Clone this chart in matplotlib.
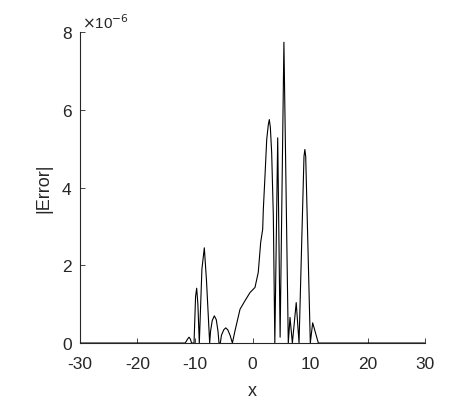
import matplotlib
matplotlib.use("Agg")
import matplotlib.pyplot as plt

# |error| values, y in units of 1e-6
x_vals = [-30, -11.7, -11.3, -11.04, -10.8, -10.6, -10.17, -9.9, -9.71, -9.5,
          -9.25, -8.8, -8.38, -8.0, -7.45,
          -7.3, -7.0, -6.64, -6.3, -6.0, -5.83,
          -5.6, -5.4, -5.0, -4.66, -4.3, -3.9, -3.5,
          -3.04, -2.17, -1.3, -0.43, 0.43, 1.0, 1.42, 1.77, 1.88, 2.17, 2.47,
          2.75, 2.92, 3.1, 3.33, 3.62, 3.88, 4.38, 4.8, 5.46, 6.22,
          6.52, 6.93, 7.6, 8.09, 8.95, 9.1, 9.25, 10.05, 10.46, 11.45, 30]
err_e6 = [0, 0, 0.1, 0.15, 0.1, 0, 0, 1.2, 1.41, 1.0,
          0, 1.9, 2.45, 1.6, 0,
          0.3, 0.58, 0.7, 0.6, 0.3, 0,
          0, 0.2, 0.34, 0.39, 0.34, 0.2, 0,
          0.32, 0.87, 1.09, 1.3, 1.43, 1.82, 2.59, 2.93, 3.44, 4.3, 5.24,
          5.62, 5.75, 5.55, 4.9, 3.27, 0, 5.28, 0.15, 7.74, 0,
          0.66, 0, 1.04, 0, 4.8, 4.98, 4.8, 0, 0.52, 0, 0]

x_ticks = [-30, -20, -10, 0, 10, 20, 30]
y_ticks = [0, 2, 4, 6, 8]

plt.rcParams['font.family'] = ['Liberation Sans', 'DejaVu Sans']
txt = '#262626'

fig = plt.figure(figsize=(4.61, 4.14), dpi=100)
ax = fig.add_axes([0.1735, 0.169, 0.7485, 0.751])
ax.plot(x_vals, err_e6, color='black', lw=0.8)

ax.set_xlim(-30, 30)
ax.set_ylim(0, 8)
ax.set_xticks(x_ticks)
ax.set_yticks(y_ticks)
ax.set_xticklabels([str(t) for t in x_ticks])
ax.set_yticklabels([str(t) for t in y_ticks])

for side in ['top', 'right']:
    ax.spines[side].set_visible(False)
for side in ['left', 'bottom']:
    ax.spines[side].set_color(txt)
    ax.spines[side].set_linewidth(0.8)

ax.tick_params(direction='in', length=3.5, width=0.6, colors=txt,
               labelsize=12.5)
ax.tick_params(axis='x', pad=9)
ax.tick_params(axis='y', pad=6)
ax.set_xlabel('x', fontsize=13, color=txt, labelpad=8)
ax.set_ylabel('|Error|', fontsize=13, color=txt, labelpad=7)
ax.text(0.005, 1.005, r'$\times$10$^{-6}$', transform=ax.transAxes,
        fontsize=11, color=txt, ha='left', va='bottom')

fig.savefig('out.png', dpi=100)
